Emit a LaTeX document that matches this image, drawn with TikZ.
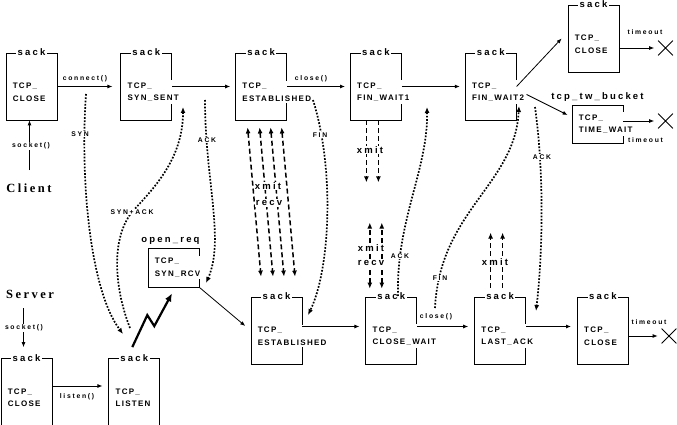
\documentclass[tikz,border=0pt]{standalone}
\usepackage{fontspec}
\setmainfont{Liberation Sans}
\newfontfamily\sackfam{Liberation Sans}[LetterSpace=23]
\newfontfamily\statefam{Liberation Sans}[LetterSpace=16]
\newfontfamily\lblfam{Liberation Sans}[LetterSpace=25]
\newfontfamily\rolefam{Liberation Serif}[LetterSpace=20]
\newcommand{\sackfont}{\sackfam\bfseries\fontsize{9.5pt}{11pt}\selectfont}
\newcommand{\statefont}{\statefam\bfseries\fontsize{8pt}{12.5pt}\selectfont}
\newcommand{\lblfont}{\lblfam\bfseries\fontsize{6.8pt}{8pt}\selectfont}
\newcommand{\rolefont}{\rolefam\bfseries\fontsize{12.5pt}{14pt}\selectfont}
\usetikzlibrary{arrows.meta,positioning,calc,shapes.misc}

\begin{document}
\begin{tikzpicture}[
  x=1pt, y=-1pt,
  node distance=63pt,
  box/.style={draw, line width=0.8pt, minimum width=51pt, minimum height=67pt, inner sep=0pt},
  sockbox/.style={box, label={[sack]north:sack}},
  sack/.style={fill=white, inner sep=1.5pt, anchor=center, font=\sackfont},
  owner/.style={inner sep=1pt, label distance=2pt, font=\sackfont},
  state/.style={fill=white, inner sep=2pt, align=left, anchor=west, xshift=5pt, yshift=-5.5pt, font=\statefont},
  lbl/.style={fill=white, inner sep=1pt, font=\lblfont},
  big/.style={fill=white, inner sep=1pt, font=\sackfont},
  role/.style={inner sep=1pt, font=\rolefont},
  arr/.style={-{Latex[length=5pt,width=4pt]}, line width=0.8pt},
  ack/.style={-{Latex[length=6pt,width=5pt]}, line width=1.7pt, dash pattern=on 1.7pt off 1.6pt},
  xmit/.style={line width=1.5pt, dash pattern=on 5pt off 3pt},
  bolt/.style={-{Latex[length=8pt,width=7pt]}, line width=2.2pt},
  kill/.style={cross out, draw, line width=0.8pt, minimum size=14pt, inner sep=0pt}
]
  \useasboundingbox (0,0) rectangle (677,425);

  \node[sockbox, label={[state]west:{TCP\_\\CLOSE}}] (cli) at (31.5,86.5) {};
  \node[sockbox, right=of cli, label={[state]west:{TCP\_\\SYN\_SENT}}] (sent) {};
  \node[sockbox, right=of sent, label={[state]west:{TCP\_\\ESTABLISHED}}] (est) {};
  \node[sockbox, right=of est, label={[state]west:{TCP\_\\FIN\_WAIT1}}] (fw1) {};
  \node[sockbox, right=of fw1, label={[state]west:{TCP\_\\FIN\_WAIT2}}] (fw2) {};
  \node[sockbox, label={[state]west:{TCP\_\\CLOSE}}] (dead) at (593.5,38.5) {};
  \node[box, minimum height=38pt, label={[owner]north:tcp\_tw\_bucket},
        label={[state, yshift=5.5pt]west:{TCP\_\\TIME\_WAIT}}] (tw) at (597.5,124) {};

  \node[sockbox, label={[state]west:{TCP\_\\CLOSE}}] (srv) at (26.5,392) {};
  \node[sockbox, right=56pt of srv, label={[state]west:{TCP\_\\LISTEN}}] (lis) {};
  \node[box, minimum height=39pt, label={[owner, xshift=-3pt]north:open\_req},
        label={[state, yshift=5.5pt]west:{TCP\_\\SYN\_RCV}}] (rcv) at (173.5,267.5) {};
  \node[sockbox, label={[state]west:{TCP\_\\ESTABLISHED}}] (est2) at (276.5,330.5) {};
  \node[sockbox, right=of est2, label={[state]west:{TCP\_\\CLOSE\_WAIT}}] (cw) {};
  \node[sockbox, right=57pt of cw, label={[state]west:{TCP\_\\LAST\_ACK}}] (last) {};
  \node[sockbox, right=51pt of last, label={[state]west:{TCP\_\\CLOSE}}] (gone) {};

  \node[kill] (x1) at (665.5,48) {};
  \node[kill] (x2) at (665.5,121) {};
  \node[kill] (x3) at (669,336) {};

  \node[role] (client) at (29,188) {Client};
  \node[role] (server) at (30,294) {Server};
  \coordinate (cliS) at (29.5,170);
  \coordinate (srvS) at (23.5,308);

  \draw[arr] (cliS) -- (cliS |- cli.south);
  \draw[arr, shorten >=8pt] (cli.east) -- (sent.west);
  \draw[arr, shorten >=5pt] (sent.east) -- (est.west);
  \draw[arr, shorten >=5pt] (est.east) -- (fw1.west);
  \draw[arr, shorten >=5pt] (fw1.east) -- (fw2.west);
  \draw[arr] (fw2.east) -- ([xshift=-6pt]dead.west);
  \draw[arr] ([xshift=10pt,yshift=-8pt]fw2.east) -- ([xshift=-4pt,yshift=9pt]tw.west);
  \draw[arr, shorten >=4pt] (dead.east |- x1) -- (x1);
  \draw[arr, shorten >=4pt] (tw.east |- x2) -- (x2);

  \draw[arr] (srvS) -- ($(srvS |- srv.north)+(0,-11)$);
  \draw[arr, shorten >=6pt] ([yshift=6pt]srv.east) -- ([yshift=6pt]lis.west);
  \draw[bolt] ($(lis.north)+(-2,-11)$) -- ++(15,-32) -- ++(7,11) -- ($(rcv.south)+(-1.5,6)$);
  \draw[arr, shorten >=7pt] (rcv.south east) -- (est2.west);
  \draw[arr, shorten >=6pt] ([yshift=4pt]est2.east) -- ([yshift=4pt]cw.west);
  \draw[arr, shorten >=6pt] ([yshift=4pt]cw.east) -- ([yshift=4pt]last.west);
  \draw[arr, shorten >=6pt] ([yshift=4pt]last.east) -- ([yshift=4pt]gone.west);
  \draw[arr, shorten >=4pt] (gone.east |- x3) -- (x3);

  \foreach \a/\b in {-13.5/-15.5, -1.5/-3.5, 9.5/7.5, 20.5/18.5}
    \draw[xmit, {Latex[length=6pt,width=5pt]}-{Latex[length=6pt,width=5pt]}]
      ([xshift=\a pt, yshift=-7pt]est.south) -- ([xshift=\b pt, yshift=20pt]est2.north);
  \foreach \a in {-9.5, 2.5}
    \draw[xmit, -{Latex[length=6pt,width=5pt]}] ([xshift=\a pt]fw1.south) -- ([xshift=\a pt, yshift=-62pt]fw1.south);
  \foreach \a in {-21.5, -9.5}
    \draw[xmit, {Latex[length=6pt,width=5pt]}-{Latex[length=6pt,width=5pt]}]
      ([xshift=\a pt, yshift=8pt]cw.north) -- ([xshift=\a pt, yshift=74pt]cw.north);
  \foreach \a in {-9.5, 2.5}
    \draw[xmit, -{Latex[length=6pt,width=5pt]}] ([xshift=\a pt, yshift=9pt]last.north) -- ([xshift=\a pt, yshift=64pt]last.north);

  \coordinate (synA) at (86,94);
  \coordinate (synB) at (123,334);
  \coordinate (saA) at (130,328);
  \coordinate (saB) at (183,107);
  \coordinate (ackA) at (205,100);
  \coordinate (ackB) at (206,283);
  \coordinate (finA) at (313,100);
  \coordinate (finB) at (308,315);
  \coordinate (ack2A) at (398,296);
  \coordinate (ack2B) at (427,107);
  \coordinate (fin2A) at (435,308);
  \coordinate (fin2B) at (519,106);
  \coordinate (ack3A) at (535,107);
  \coordinate (ack3B) at (536,311);
  \draw[ack] (synA) .. controls (80,180) and (90,290) .. (synB);
  \draw[ack] (saA) .. controls (115,290) and (110,240) .. (132,212) .. controls (152,190) and (183,160) .. (saB);
  \draw[ack] (ackA) .. controls (205,180) and (225,240) .. (ackB);
  \draw[ack] (finA) .. controls (335,170) and (330,270) .. (finB);
  \draw[ack] (ack2A) .. controls (396,220) and (428,170) .. (ack2B);
  \draw[ack] (fin2A) .. controls (440,210) and (515,185) .. (fin2B);
  \draw[ack] (ack3A) .. controls (545,180) and (542,260) .. (ack3B);

  \node[lbl] (sock1) at (31,146) {socket()};
  \node[lbl] (sock2) at (24,328) {socket()};
  \node[lbl] (conn) at (85,79) {connect()};
  \node[lbl] (close1) at (311,79) {close()};
  \node[lbl] (close2) at (436,317) {close()};
  \node[lbl] (listen) at (77,397) {listen()};
  \node[lbl] (to1) at (645,32) {timeout};
  \node[lbl] (to2) at (645.5,140) {timeout};
  \node[lbl] (to3) at (649,322) {timeout};
  \node[lbl] (syn) at (80,134) {SYN};
  \node[lbl] (synack) at (132,212) {SYN+ACK};
  \node[lbl] (ack1) at (207,140) {ACK};
  \node[lbl] (fin1) at (320,135) {FIN};
  \node[lbl] (ack2) at (400,256) {ACK};
  \node[lbl] (fin2) at (440,278) {FIN};
  \node[lbl] (ack3) at (542,157) {ACK};
  \node[big] (xm1) at (268,186) {xmit};
  \node[big] (rv1) at (269,203) {recv};
  \node[big] (xm2) at (370,150) {xmit};
  \node[big] (xm3) at (371,248) {xmit};
  \node[big] (rv3) at (371,263) {recv};
  \node[big] (xm4) at (495,262) {xmit};
\end{tikzpicture}
\end{document}
